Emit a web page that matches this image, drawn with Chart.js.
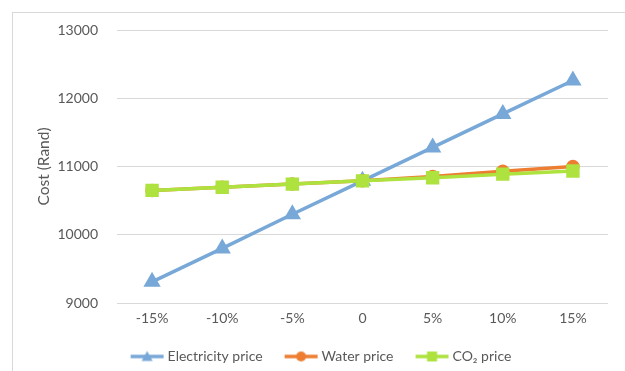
<!DOCTYPE html>
<html>
<head>
<meta charset="utf-8">
<script src="https://cdn.jsdelivr.net/npm/chart.js@4"></script>
<style>
  html, body { margin: 0; padding: 0; background: #fff; }
  #wrap { position: relative; width: 625px; height: 371px; overflow: hidden; }
  #frame { position: absolute; left: 12px; top: 12px; width: 620px; height: 400px;
           border: 1px solid #d9d9d9; box-sizing: border-box; }
  canvas { position: absolute; left: 0; top: 0; }
</style>
</head>
<body>
<div id="wrap">
  <div id="frame"></div>
  <canvas id="c" width="625" height="371"></canvas>
</div>
<script>
// Price change scenarios and resulting cost
const categories = ['-15%', '-10%', '-5%', '0', '5%', '10%', '15%'];
const electricityCost = [9310, 9800, 10300, 10790, 11280, 11770, 12260];
const waterCost = [10650, 10695, 10745, 10790, 10855, 10930, 11000];
const co2Cost = [10650, 10695, 10742, 10790, 10835, 10888, 10935];
const yTicks = [9000, 10000, 11000, 12000, 13000];

const BLUE = '#78a8d8';
const ORANGE = '#ed7d31';
const GREEN = '#aee23e';
const FONT = 'Lato, "Open Sans", sans-serif';

// Legend swatch: a short line with the series marker in the middle
function legendIcon(color, shape) {
  const cv = document.createElement('canvas');
  cv.width = 35; cv.height = 14;
  const g = cv.getContext('2d');
  g.strokeStyle = color; g.fillStyle = color; g.lineWidth = 3.5;
  g.beginPath(); g.moveTo(1, 7); g.lineTo(34, 7); g.stroke();
  g.beginPath();
  if (shape === 'triangle') {
    g.moveTo(17.5, 1.5); g.lineTo(23, 11.5); g.lineTo(12, 11.5); g.closePath();
  } else if (shape === 'circle') {
    g.arc(17.5, 7, 5, 0, Math.PI * 2);
  } else {
    g.rect(12.5, 2, 10, 10);
  }
  g.fill();
  return cv;
}
const icons = [legendIcon(BLUE, 'triangle'), legendIcon(ORANGE, 'circle'), legendIcon(GREEN, 'rect')];

new Chart(document.getElementById('c'), {
  type: 'line',
  data: {
    labels: categories,
    datasets: [
      { label: 'Electricity price', data: electricityCost, borderColor: BLUE, backgroundColor: BLUE,
        borderWidth: 3.5, pointStyle: 'triangle', pointRadius: 6.5, pointHoverRadius: 6.5, order: 3 },
      { label: 'Water price', data: waterCost, borderColor: ORANGE, backgroundColor: ORANGE,
        borderWidth: 3.5, pointStyle: 'circle', pointRadius: 5, pointHoverRadius: 5, order: 2 },
      { label: 'CO\u2082 price', data: co2Cost, borderColor: GREEN, backgroundColor: GREEN,
        borderWidth: 3.5, pointStyle: 'rect', pointRadius: 7, pointHoverRadius: 7, order: 1 }
    ]
  },
  options: {
    responsive: false,
    animation: false,
    layout: { padding: { top: 30, right: 17, left: 37, bottom: -2.5 } },
    elements: { line: { tension: 0 }, point: { borderWidth: 0 } },
    scales: {
      x: {
        offset: true,
        grid: { display: false, drawTicks: false },
        border: { display: false },
        ticks: { color: '#595959', font: { family: FONT, size: 14 }, padding: 7.5 },
        afterFit(s) { s.height = 21.5; }
      },
      y: {
        min: 9000, max: 13000,
        afterBuildTicks(s) { s.ticks = yTicks.map(v => ({ value: v })); },
        grid: { color: '#d9d9d9', lineWidth: 1, drawTicks: false },
        border: { display: false },
        ticks: { color: '#595959', font: { family: FONT, size: 14 }, padding: 19,
                 callback: v => String(v) },
        title: { display: true, text: 'Cost (Rand)', color: '#595959',
                 font: { family: FONT, size: 15.5 }, padding: { top: -2, bottom: 0 } },
        afterFit(s) { s.width = 80; }
      }
    },
    plugins: {
      tooltip: { enabled: false },
      legend: {
        position: 'bottom',
        labels: {
          usePointStyle: true,
          pointStyleWidth: 27,
          padding: 25,
          color: '#595959',
          font: { family: FONT, size: 14 },
          generateLabels(chart) {
            const items = Chart.defaults.plugins.legend.labels.generateLabels(chart);
            items.sort((a, b) => a.datasetIndex - b.datasetIndex);
            items.forEach(it => { it.pointStyle = icons[it.datasetIndex]; });
            return items;
          }
        }
      }
    }
  }
});
</script>
</body>
</html>
